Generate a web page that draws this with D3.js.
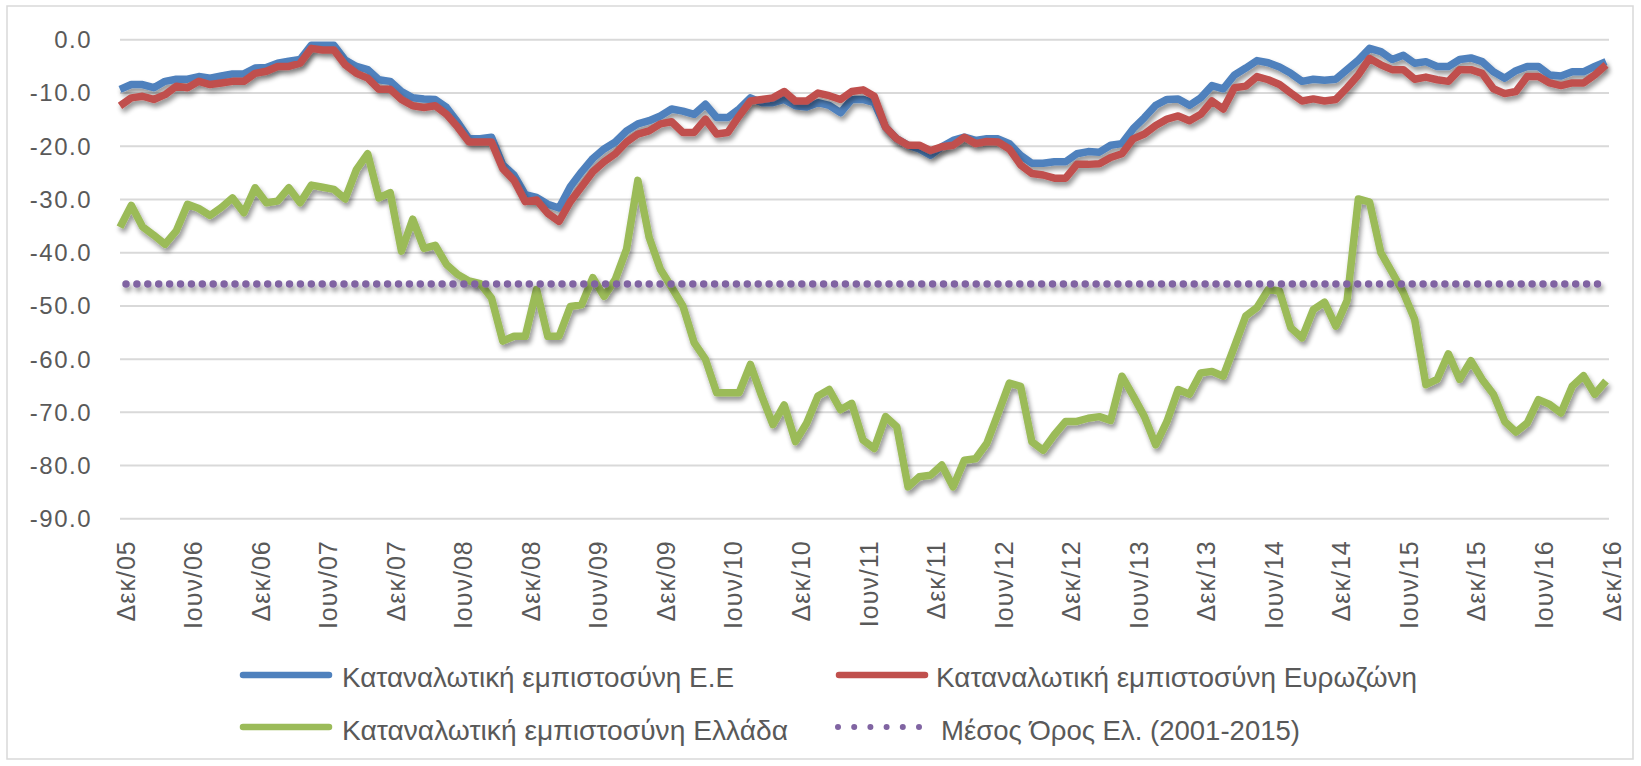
<!DOCTYPE html>
<html><head><meta charset="utf-8">
<script src="https://cdn.jsdelivr.net/npm/d3@7"></script>
<style>
body{margin:0;background:#fff}
svg{display:block}
text{font-family:"Liberation Sans",Arial,sans-serif;fill:#595959}
</style>
</head><body>
<svg id="chart" width="1641" height="766"></svg>
<script>
// ---------------- DATA ----------------
// monthly categories Dec 2005 .. Dec 2016 (133 months)
const categories = d3.timeMonth.range(new Date(2005, 11, 1), new Date(2017, 0, 1));

const xTickLabels = ["Δεκ/05","Ιουν/06","Δεκ/06","Ιουν/07","Δεκ/07","Ιουν/08","Δεκ/08","Ιουν/09",
  "Δεκ/09","Ιουν/10","Δεκ/10","Ιουν/11","Δεκ/11","Ιουν/12","Δεκ/12","Ιουν/13","Δεκ/13","Ιουν/14",
  "Δεκ/14","Ιουν/15","Δεκ/15","Ιουν/16","Δεκ/16"];
const yTickValues = [0,-10,-20,-30,-40,-50,-60,-70,-80,-90];
const yTickLabels = ["0.0","-10.0","-20.0","-30.0","-40.0","-50.0","-60.0","-70.0","-80.0","-90.0"];

// Καταναλωτική εμπιστοσύνη Ε.Ε
const euValues = [-9.4,-8.5,-8.5,-9.1,-7.9,-7.5,-7.5,-7.0,-7.3,-6.9,-6.5,-6.5,-5.4,-5.3,-4.5,-4.1,-3.8,-1.1,-1.1,-1.1,
  -3.9,-5.1,-5.7,-7.6,-7.9,-9.8,-11.0,-11.2,-11.3,-12.8,-15.6,-18.7,-18.7,-18.4,-23.6,-25.5,-29.2,-29.7,-31.0,-31.7,
  -27.7,-24.9,-22.4,-20.6,-19.3,-17.2,-15.9,-15.3,-14.4,-13.1,-13.5,-14.1,-12.2,-14.7,-14.7,-13.1,-11.0,-11.9,-11.9,-11.3,
  -12.5,-12.7,-11.9,-12.4,-13.8,-11.3,-11.3,-11.9,-16.5,-18.7,-19.9,-20.6,-21.8,-20.2,-19.0,-18.4,-19.0,-18.7,-18.7,-19.6,
  -21.8,-23.3,-23.3,-23.0,-23.0,-21.5,-21.1,-21.2,-19.9,-19.6,-16.8,-14.7,-12.4,-11.3,-11.2,-12.4,-11.0,-8.7,-9.3,-6.7,
  -5.4,-4.0,-4.4,-5.2,-6.4,-7.9,-7.5,-7.7,-7.5,-5.7,-3.9,-1.7,-2.3,-3.8,-3.0,-4.5,-4.2,-5.1,-5.1,-3.8,
  -3.5,-4.2,-6.1,-7.3,-5.9,-5.1,-5.1,-6.7,-6.9,-6.1,-6.1,-5.1,-4.2];

// Καταναλωτική εμπιστοσύνη Ευρωζώνη
const eaValues = [-12.5,-11.0,-10.7,-11.3,-10.4,-8.8,-9.1,-7.9,-8.5,-8.2,-7.9,-7.9,-6.4,-6.0,-5.1,-5.1,-4.5,-1.7,-2.0,-2.0,
  -4.8,-6.4,-7.3,-9.4,-9.4,-11.3,-12.5,-12.8,-12.5,-14.1,-16.5,-19.3,-19.3,-19.3,-24.3,-26.5,-30.5,-30.2,-32.7,-34.2,
  -30.5,-27.7,-24.9,-23.0,-21.5,-19.3,-17.8,-17.2,-15.9,-15.5,-17.5,-17.5,-15.0,-17.8,-17.5,-14.4,-11.6,-11.3,-11.0,-9.8,
  -11.6,-11.6,-10.1,-10.6,-11.3,-9.8,-9.5,-10.7,-16.5,-18.7,-19.9,-19.9,-20.9,-20.2,-19.9,-18.4,-19.6,-19.2,-19.3,-20.6,
  -23.6,-25.2,-25.5,-26.1,-26.1,-23.5,-23.5,-23.4,-22.2,-21.5,-18.7,-17.8,-16.2,-15.0,-14.4,-15.3,-14.1,-11.6,-13.1,-9.1,
  -8.8,-7.0,-7.6,-8.5,-10.1,-11.6,-11.2,-11.6,-11.3,-9.1,-6.7,-3.6,-4.8,-5.7,-5.7,-7.5,-7.1,-7.6,-7.9,-5.7,
  -5.7,-6.4,-9.3,-10.2,-9.8,-7.0,-7.0,-8.2,-8.7,-8.2,-8.2,-6.7,-4.8];

// Καταναλωτική εμπιστοσύνη Ελλάδα
const grValues = [-35.3,-31.2,-35.2,-36.8,-38.5,-36.0,-31.0,-31.8,-33.1,-31.6,-29.8,-32.6,-27.9,-30.7,-30.4,-27.9,-30.7,-27.4,-27.8,-28.2,
  -30.0,-24.5,-21.5,-29.8,-28.8,-39.8,-33.8,-39.3,-38.7,-42.3,-44.2,-45.4,-45.9,-48.6,-56.7,-55.8,-55.8,-47.0,-55.8,-55.8,
  -50.2,-49.9,-44.8,-48.3,-45.1,-39.4,-26.5,-37.2,-43.2,-46.6,-50.1,-57.0,-60.1,-66.4,-66.4,-66.4,-61.1,-67.0,-72.4,-68.7,
  -75.6,-72.1,-67.0,-65.8,-69.6,-68.4,-75.3,-76.9,-70.9,-72.8,-84.1,-82.2,-81.9,-80.0,-84.1,-79.1,-78.8,-75.9,-70.3,-64.6,
  -65.2,-75.6,-77.2,-74.3,-71.8,-71.8,-71.2,-70.9,-71.6,-63.3,-67.0,-70.9,-76.2,-71.8,-65.8,-66.7,-62.7,-62.4,-63.3,-57.7,
  -52.0,-50.4,-47.0,-47.3,-54.2,-56.1,-50.8,-49.4,-53.9,-49.1,-30.0,-30.6,-40.1,-43.8,-47.6,-52.6,-64.9,-63.9,-59.1,-63.9,
  -60.4,-63.9,-66.7,-71.8,-73.8,-72.1,-67.7,-68.6,-70.2,-65.2,-63.2,-66.7,-64.2];

// Μέσος Όρος Ελ. (2001-2015)
const grAverage = -46.0;

const seriesNames = ["Καταναλωτική εμπιστοσύνη Ε.Ε","Καταναλωτική εμπιστοσύνη Ευρωζώνη",
  "Καταναλωτική εμπιστοσύνη Ελλάδα","Μέσος Όρος Ελ. (2001-2015)"];
const seriesColors = ["#4F81BD","#C0504D","#9BBB59","#8064A2"];

// ---------------- CHART ----------------
const svg = d3.select("#chart");
const W = 1641, H = 766;
const plot = {left:120, right:1606, top:39.3, bottom:518.3, gridRight:1609};

svg.append("rect").attr("x",0).attr("y",0).attr("width",W).attr("height",H).attr("fill","#fff");
svg.append("rect").attr("x",7).attr("y",6).attr("width",1626).attr("height",753)
  .attr("fill","none").attr("stroke","#d9d9d9").attr("stroke-width",1.5);

const defs = svg.append("defs");
const f = defs.append("filter").attr("id","shadow").attr("filterUnits","userSpaceOnUse")
  .attr("x",0).attr("y",0).attr("width",W).attr("height",H);
f.append("feGaussianBlur").attr("in","SourceAlpha").attr("stdDeviation",2.5).attr("result","b");
f.append("feOffset").attr("in","b").attr("dx",2).attr("dy",4).attr("result","o");
f.append("feComponentTransfer").attr("in","o").attr("result","s")
  .append("feFuncA").attr("type","linear").attr("slope",0.42);
const m = f.append("feMerge");
m.append("feMergeNode").attr("in","s");
m.append("feMergeNode").attr("in","SourceGraphic");

const x = d3.scalePoint().domain(d3.range(categories.length)).range([plot.left, plot.right]);
const y = d3.scaleLinear().domain([-90,0]).range([plot.bottom, plot.top]);

// Y axis with gridlines
const yAxis = d3.axisLeft(y).tickValues(yTickValues)
  .tickFormat((d,i)=>yTickLabels[i])
  .tickSize(-(plot.gridRight-plot.left)).tickPadding(28);
const gy = svg.append("g").attr("transform",`translate(${plot.left},0)`).call(yAxis);
gy.select(".domain").remove();
gy.selectAll(".tick line").attr("stroke","#d9d9d9").attr("stroke-width",2);
gy.selectAll(".tick text").attr("font-size",24).attr("letter-spacing","1.5px")
  .attr("fill","#595959").attr("dy","0.35em").style("font-family","'Liberation Sans',Arial,sans-serif");

// X axis labels every 6 months
const xTickIdx = d3.range(0, categories.length, 6);
const xAxis = d3.axisBottom(x).tickValues(xTickIdx).tickSize(0)
  .tickFormat((d,i)=>xTickLabels[i]);
const gx = svg.append("g").attr("transform",`translate(0,${plot.bottom})`).call(xAxis);
gx.select(".domain").remove();
gx.selectAll(".tick text")
  .attr("x",0).attr("y",0).attr("dy",0)
  .attr("text-anchor","end")
  .attr("transform","translate(14,22) rotate(-90)")
  .attr("font-size",25).attr("letter-spacing","1px")
  .attr("fill","#595959").style("font-family","'Liberation Sans',Arial,sans-serif");

// Lines
const line = d3.line().x((d,i)=>x(i)).y(d=>y(d));
[euValues, eaValues, grValues].forEach((vals, k)=>{
  svg.append("path").datum(vals)
    .attr("d", line)
    .attr("fill","none").attr("stroke",seriesColors[k]).attr("stroke-width",7.5)
    .attr("stroke-linejoin","round").attr("stroke-linecap","butt")
    .attr("filter","url(#shadow)");
});
// average dotted line
const avgPts = [[x(0), y(grAverage)], [x(categories.length-1), y(grAverage)]];
svg.append("path").attr("d", d3.line()(avgPts))
  .attr("fill","none").attr("stroke",seriesColors[3]).attr("stroke-width",7.5)
  .attr("stroke-linecap","round").attr("stroke-dasharray","0 10.9").attr("stroke-dashoffset",4.9)
  .attr("filter","url(#shadow)");

// Legend
const legendItems = [
  {name:seriesNames[0], color:seriesColors[0], lx:240, tx:342, y:675, base:687, tl:392, dotted:false},
  {name:seriesNames[1], color:seriesColors[1], lx:836, tx:936, y:675, base:687, tl:481, dotted:false},
  {name:seriesNames[2], color:seriesColors[2], lx:240, tx:342, y:727, base:740, tl:446, dotted:false},
  {name:seriesNames[3], color:seriesColors[3], lx:838, tx:941, y:727, base:740, tl:359, dotted:true}
];
const lg = svg.append("g");
legendItems.forEach(it=>{
  if(!it.dotted){
    lg.append("line").attr("x1",it.lx+3).attr("x2",it.lx+89).attr("y1",it.y).attr("y2",it.y)
      .attr("stroke",it.color).attr("stroke-width",6.5).attr("stroke-linecap","round");
  } else {
    lg.append("line").attr("x1",it.lx).attr("x2",it.lx+84).attr("y1",it.y).attr("y2",it.y)
      .attr("stroke",it.color).attr("stroke-width",6).attr("stroke-linecap","round")
      .attr("stroke-dasharray","0 16.2");
  }
  lg.append("text").attr("x",it.tx).attr("y",it.base).text(it.name)
    .attr("font-size",28).attr("fill","#595959")
    .attr("textLength",it.tl).attr("lengthAdjust","spacingAndGlyphs");
});
</script>
</body></html>
